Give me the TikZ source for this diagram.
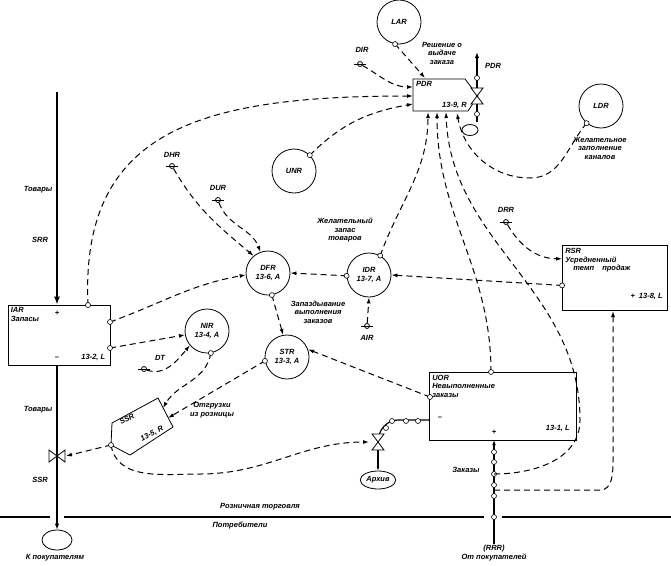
\documentclass[tikz,border=0pt]{standalone}
\usepackage{fontspec}
\usepackage{graphicx}
\setmainfont{Liberation Sans}
\usetikzlibrary{arrows.meta,shapes.geometric}
\begin{document}
\begin{tikzpicture}[x=1pt,y=-1pt,
  font=\itshape\bfseries\fontsize{7.5}{8.5}\selectfont,
  aux/.style={circle,draw,line width=0.8pt,minimum size=44pt,inner sep=0pt,align=center},
  lvl/.style={draw,line width=0.8pt},
  info/.style={dashed,dash pattern=on 6pt off 4pt,line width=1pt,-{Latex[length=6pt,width=4pt]}},
  flow/.style={line width=2pt},
  lbl/.style={align=center,inner sep=1pt},
  tap/.style={circle,draw,fill=white,minimum size=5pt,inner sep=0pt,line width=0.6pt},
  src/.style={circle,draw,fill=white,minimum size=5pt,inner sep=0pt,line width=0.8pt},
  cloud/.style={ellipse,draw,line width=0.8pt,minimum width=26pt,minimum height=18pt,inner sep=1pt}]
\useasboundingbox (0,0) rectangle (671,565);
\tikzset{pics/valveh/.style={code={\draw[line width=0.8pt,fill=white] (-8,-6)--(8,6)--(8,-6)--(-8,6)--cycle;}},
         pics/valvev/.style={code={\draw[line width=0.8pt,fill=white] (-6,-8)--(6,8)--(-6,8)--(6,-8)--cycle;}}}
% ---- boundary line
\draw[line width=1.8pt] (0,517)--(50,517) (64,517)--(484,517) (502,517)--(671,517);
\node[lbl] (rt) at (260,507) {Розничная торговля};
\node[lbl] (cons) at (240,526) {Потребители};
% ---- IAR level
\node[draw,line width=0.8pt,minimum width=102pt,minimum height=60pt] (IAR) at (59,335) {};
\node[lbl,anchor=north west,align=left] at ([xshift=2pt,yshift=-2pt]IAR.north west) {IAR\\Запасы};
\node[lbl,anchor=south east] at ([xshift=-4pt,yshift=4pt]IAR.south east) {13-2, L};
\node[lbl] at (57,313) {+};
\node[lbl] at (57,358) {--};
\coordinate (top) at (57,92);
\draw[flow,-{Latex[length=8pt]}] (top)--(IAR.north-|top);
\node[lbl] at (38,190) {Товары};
\node[lbl] at (40,240) {SRR};
\coordinate (v1) at (57,456);
\node[cloud,minimum width=30pt,minimum height=20pt] (c1) at (57,540) {};
\draw[flow,-{Latex[length=6pt]}] (IAR.south-|top)--(c1.north);
\pic at (v1) {valveh};
\node[lbl] at (38,410) {Товары};
\node[lbl] at (40,480) {SSR};
\node[lbl] at (55,558) {К покупателям};
% ---- PDR rate
\draw[lvl] (413,79)--(465,79)--(478,96)--(468,111)--(413,111)--cycle;
\node[lbl,anchor=north west] at (415,80) {PDR};
\node[lbl,anchor=south east] at (468,110) {13-9, R};
\node[cloud,minimum width=16pt,minimum height=11pt,inner sep=0pt] (c2) at (470,130) {};
\coordinate (pdrtop) at (477,52);
\draw[line width=1.4pt,-{Latex[length=6pt]}] (477,122)--(pdrtop);
\pic at (477,96) {valvev};
\node[tap] at (477,78) {};
\node[tap] at (477,114) {};
\node[lbl] at (493,66) {PDR};
\node[lbl] at (442,53) {Решение о\\выдаче\\заказа};
% ---- circles
\node[aux] (LAR) at (399,22) {LAR};
\node[aux] (LDR) at (601,106) {LDR};
\node[aux] (UNR) at (294,171) {UNR};
\node[aux] (DFR) at (268,273) {DFR\\13-6, A};
\node[aux] (IDR) at (369,275) {IDR\\13-7, A};
\node[aux] (NIR) at (207,331) {NIR\\13-4, A};
\node[aux] (STR) at (287,357) {STR\\13-3, A};
\node[lbl] at (600,148) {Желательное\\заполнение\\каналов};
\node[lbl] at (345,230) {Желательный\\запас\\товаров};
\node[lbl] at (318,312) {Запаздывание\\выполнения\\заказов};
% ---- RSR level
\node[draw,line width=0.8pt,minimum width=105pt,minimum height=65pt] (RSR) at (615,278) {};
\node[lbl,anchor=north west,align=left] at ([xshift=2pt,yshift=-2pt]RSR.north west) {RSR\\Усредненный\\\hspace*{8pt}темп\hspace{6pt} продаж};
\node[lbl,anchor=south east] at ([xshift=-4pt,yshift=10pt]RSR.south east) {+\hspace{4pt}13-8, L};
% ---- UOR level
\node[draw,line width=0.8pt,minimum width=147pt,minimum height=68pt] (UOR) at (503,406) {};
\node[lbl,anchor=north west,align=left] at ([xshift=2pt,yshift=-2pt]UOR.north west) {UOR\\Невыполненные\\заказы};
\node[lbl,anchor=south east] at ([xshift=-6pt,yshift=8pt]UOR.south east) {13-1, L};
\node[lbl] at (494,432) {+};
\node[lbl] at (440,418) {--};
% ---- SSR rate
\draw[lvl,fill=white] (112,423)--(158,398)--(173,427)--(130,455)--(111,445)--cycle;
\node[inner sep=0pt] at (127,419) {\rotatebox{28}{SSR}};
\node[inner sep=0pt] at (152,434) {\rotatebox{28}{13-5, R}};
\coordinate (SSRtip) at (111,445);
\coordinate (SSRtop) at (163,408);
\coordinate (SSRtop2) at (168,418);
\node[lbl] at (212,410) {Отгрузки\\из розницы};
% ---- archive
\coordinate (v2) at (378,442);
\node[cloud] (arch) at (378,480) {Архив};
\draw[line width=1.2pt] (430,420)--(398,420) to[out=180,in=90] (v2);
\draw[line width=1.2pt,-{Latex[length=4pt]}] (v2)--(arch.north);
\pic at (v2) {valvev};
\foreach \x in {392,406,418} \node[tap] at (\x,421) {};
\node[tap] at (386,428) {};
% ---- orders flow
\node[lbl] (rrr) at (494,553) {(RRR)\\От покупателей};
\draw[line width=1.2pt,-{Latex[length=5pt]}] (rrr.north)--(494,440);
\foreach \y in {452,462,474,485,496,517} \node[tap] at (494,\y) {};
\node[lbl] at (466,470) {Заказы};
% ---- sources
\node[src] (DIR) at (360,64) {}; \draw (354,64)--(366,64); \node[lbl] at (362,50) {DIR};
\node[src] (DHR) at (172,166) {}; \draw (166,166)--(178,166); \node[lbl] at (172,155) {DHR};
\node[src] (DUR) at (218,200) {}; \draw (212,200)--(224,200); \node[lbl] at (218,188) {DUR};
\node[src] (DRR) at (506,222) {}; \draw (500,222)--(512,222); \node[lbl] at (506,210) {DRR};
\node[src] (AIR) at (367,326) {}; \draw (361,326)--(373,326); \node[lbl] at (367,338) {AIR};
\node[src] (DT) at (144,369) {}; \draw (138,369)--(150,369); \node[lbl] at (160,358) {DT};
% ---- information links
\draw[info] (LAR.-100)--(425,78);
\node[tap] at (LAR.-100) {};
\draw[info] (DIR) to[out=-30,in=180] (413,87);
\draw[info] (88,305) .. controls (80,130) and (200,96) .. (413,96);
\node[tap] at (88,305) {};
\draw[info] (UNR.45) to[out=45,in=190] (413,104);
\node[tap] at (UNR.45) {};
\draw[info] (LDR.-130) to[out=-130,in=0] (530,178) to[out=180,in=-80] (457,113);
\node[tap] at (LDR.-130) {};
\draw[info] (IDR.60) to[out=70,in=-90] (428,112);
\node[tap] at (IDR.60) {};
\draw[info] (491,372) to[out=90,in=-90] (437,112);
\node[tap] at (491,372) {};
\draw[info] (494,474) to[out=0,in=-90] (580,420) to[out=90,in=-88] (446,112);
\draw[info] (494,490) -- (600,490) to[out=0,in=-90] (613,460) -- (613,311);
\draw[info] (DRR) to[out=-60,in=180] (RSR.160);
\draw[info] (RSR.-172)--(IDR.east);
\node[tap] at (RSR.-172) {};
\draw[info] (AIR)--(IDR.south);
\draw[info] (IDR.182)--(DFR.east);
\node[tap] at (IDR.182) {};
\draw[info] (DHR) to[out=-60,in=140] (DFR.130);
\draw[info] (DUR) to[out=-70,in=110] (DFR.110);
\draw[info] (110,322) to[out=20,in=190] (DFR.185);
\node[tap] at (110,322) {};
\draw[info] (110,348)--(NIR.190);
\node[tap] at (110,348) {};
\draw[info] (DT) to[out=-20,in=-130] (NIR.-140);
\draw[info] (DFR.-80)--(STR.100);
\node[tap] at (DFR.-80) {};
\draw[info] (430,397)--(STR.20);
\node[tap] at (430,397) {};
\draw[info] (NIR.-80) to[out=-100,in=60] (SSRtop);
\node[tap] at (NIR.-80) {};
\draw[info] (STR.190)--(SSRtop2);
\node[tap] at (STR.190) {};
\draw[info] (SSRtip)--(66,456);
\draw[info] (SSRtip) to[out=-80,in=180] (200,474) to[out=0,in=180] (369,442);
\node[tap] at (SSRtip) {};
\end{tikzpicture}
\end{document}
